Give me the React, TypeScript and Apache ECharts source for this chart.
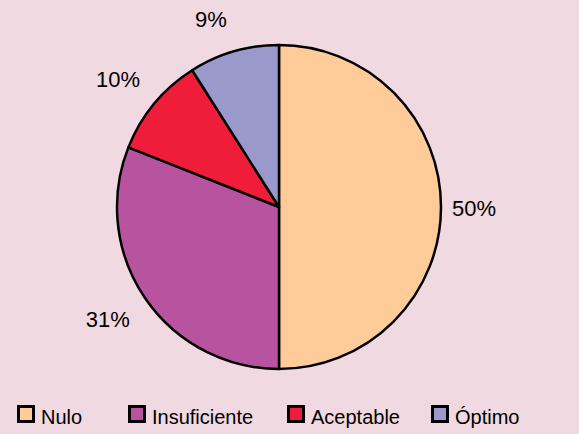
import React, { useEffect, useRef } from "react";
import * as echarts from "echarts";

const categories = ["Nulo", "Insuficiente", "Aceptable", "Óptimo"];
const values = [50, 31, 10, 9];
const colors = ["#FFCC99", "#B8549F", "#EF1C3A", "#9999CC"];

// layout helpers (not data)
const legendLefts = [14, 125, 284, 428];
const labelOffsets = [
  [-6, 1],
  [-5, 0],
  [-6, 1],
  [-12, 6],
];

export default function App() {
  const ref = useRef<HTMLDivElement>(null);
  useEffect(() => {
    const chart = echarts.init(ref.current!, null, { renderer: "svg" });
    const font = "'Liberation Sans', Arial, sans-serif";
    const data = categories.map((name, i) => ({ name, value: values[i] }));
    chart.setOption({
      animation: false,
      backgroundColor: "#F0D9E0",
      color: colors,
      legend: categories.map((name, i) => ({
        top: 404,
        left: legendLefts[i],
        padding: 0,
        icon: "rect",
        itemWidth: 0,
        itemHeight: 0,
        itemGap: 0,
        selectedMode: false,
        formatter: (n: string) => `{box|}{t|${n}}`,
        textStyle: {
          fontFamily: font,
          fontSize: 20,
          color: "#000",
          rich: {
            box: {
              width: 12,
              height: 12,
              backgroundColor: colors[i],
              borderColor: "#000",
              borderWidth: 3,
              verticalAlign: "middle",
            },
            t: {
              fontFamily: font,
              fontSize: 20,
              color: "#000",
              padding: [6, 0, 0, 9],
            },
          },
        },
        data: [name],
      })),
      series: [
        {
          type: "pie",
          center: [279, 207],
          radius: [0, 162],
          startAngle: 90,
          clockwise: true,
          itemStyle: { borderColor: "#000", borderWidth: 2.5 },
          label: { show: false },
          labelLine: { show: false },
          emphasis: { disabled: true },
          data,
        },
        {
          type: "pie",
          center: [279, 207],
          radius: [176, 220],
          startAngle: 90,
          clockwise: true,
          silent: true,
          itemStyle: { color: "rgba(0,0,0,0)", borderWidth: 0 },
          label: {
            show: true,
            position: "inside",
            formatter: "{d}%",
            fontFamily: font,
            fontSize: 22,
            color: "#000",
          },
          labelLine: { show: false },
          emphasis: { disabled: true },
          data: data.map((d, i) => ({ ...d, label: { offset: labelOffsets[i] } })),
        },
      ],
    });
    return () => chart.dispose();
  }, []);
  return <div ref={ref} style={{ width: 579, height: 434, position: "fixed", left: 0, top: 0 }} />;
}
